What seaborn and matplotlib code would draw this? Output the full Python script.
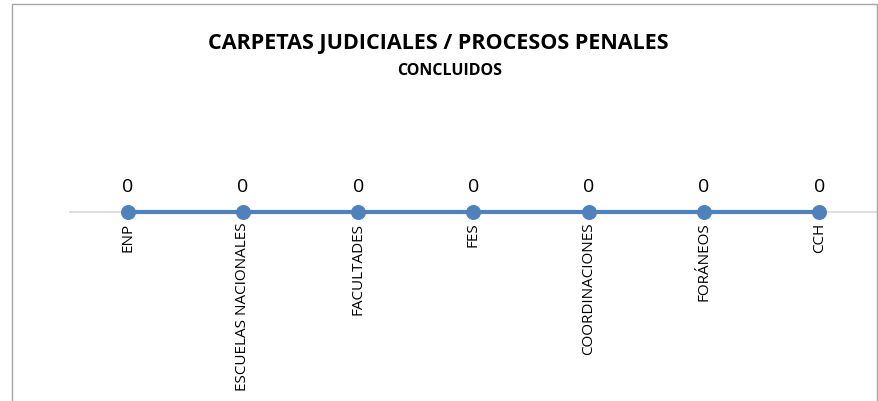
import matplotlib.pyplot as plt
import seaborn as sns
import pandas as pd
from matplotlib.patches import Rectangle

# Data
categorias = ["ENP", "ESCUELAS NACIONALES", "FACULTADES", "FES",
              "COORDINACIONES", "FORÁNEOS", "CCH"]
concluidos = [0, 0, 0, 0, 0, 0, 0]

df = pd.DataFrame({"dependencia": categorias, "concluidos": concluidos})

sns.set_style("white")
plt.rcParams['font.family'] = ['Open Sans', 'DejaVu Sans']
plt.rcParams['text.color'] = 'black'
plt.rcParams['xtick.color'] = 'black'

fig = plt.figure(figsize=(8.79, 4.02), dpi=100)
W, H = 879, 402

# plot area: x from 70 to 877 px, zero line at y=213 px
ax = fig.add_axes([70 / W, (H - 276) / H, 807 / W, 126 / H])

line_color = "#4F81BD"
sns.lineplot(data=df, x="dependencia", y="concluidos", ax=ax, sort=False,
             color=line_color, linewidth=3, marker="o", markersize=10,
             markeredgecolor=line_color, clip_on=False, zorder=3)

ax.set_xlim(-0.5, len(categorias) - 0.5)
ax.set_ylim(-1, 1)

# axis line through zero
for s in ["top", "right", "left"]:
    ax.spines[s].set_visible(False)
ax.spines["bottom"].set_position(("data", 0))
ax.spines["bottom"].set_color("#D9D9D9")
ax.spines["bottom"].set_linewidth(1.2)
ax.spines["bottom"].set_zorder(1)

ax.set_yticks([])
ax.set_xticks(range(len(categorias)))
ax.set_xticklabels(categorias, rotation=90, va="top", ha="center",
                   fontsize=11, color="black")
ax.tick_params(axis="x", length=0, pad=7)
ax.set_xlabel("")
ax.set_ylabel("")

# data labels
for i, v in enumerate(concluidos):
    ax.annotate(f"{v}", (i, v), xytext=(0, 19), textcoords="offset points",
                ha="center", va="center", fontsize=14, color="black")

# titles
fig.text(438 / W, 1 - 43 / H, "CARPETAS JUDICIALES / PROCESOS PENALES",
         ha="center", va="center", fontsize=15.5, fontweight="bold", color="black")
fig.text(450 / W, 1 - 71 / H, "CONCLUIDOS",
         ha="center", va="center", fontsize=11.5, fontweight="bold", color="black")

# chart border
fig.patches.append(Rectangle((12 / W, -0.1), (877 - 12) / W, 1.1 - 5 / H,
                             transform=fig.transFigure, fill=False,
                             edgecolor="#A6A6A6", linewidth=1))

plt.savefig("out.png", dpi=100)
